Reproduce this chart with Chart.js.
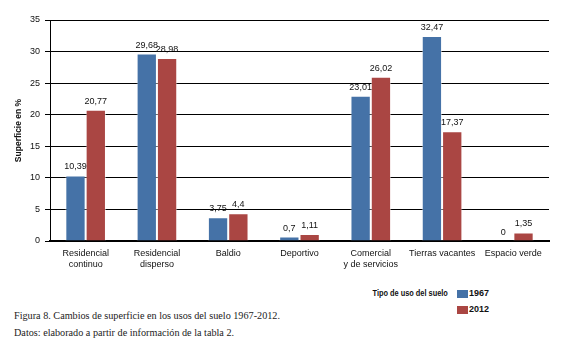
<!DOCTYPE html>
<html>
<head>
<meta charset="utf-8">
<script src="https://cdn.jsdelivr.net/npm/chart.js@4"></script>
<style>
  body { margin: 0; background: #fff; }
  #wrap { position: relative; width: 572px; height: 349px; }
  #myChart { position: absolute; left: 0; top: 0; }
  .lbl { position: absolute; font-family: 'Liberation Sans', sans-serif; font-size: 9px; color: #111; white-space: nowrap; font-weight: bold; }
  .sw { position: absolute; width: 11px; height: 8px; }
  .cap { position: absolute; left: 14px; font-family: 'Liberation Serif', serif; font-size: 10.2px; color: #222; white-space: nowrap; }
</style>
</head>
<body>
<div id="wrap">
  <canvas id="myChart" width="572" height="275"></canvas>
  <div class="lbl" style="right:124px; top:288px; transform:scaleX(0.82); transform-origin:right;">Tipo de uso del suelo</div>
  <div class="sw" style="left:457px; top:290px; background:#4572A7;"></div>
  <div class="lbl" style="left:469px; top:288px;">1967</div>
  <div class="sw" style="left:457px; top:306px; background:#AA4643;"></div>
  <div class="lbl" style="left:469px; top:304px;">2012</div>
  <div class="cap" style="top:310px;">Figura 8. Cambios de superficie en los usos del suelo 1967-2012.</div>
  <div class="cap" style="top:327px;">Datos: elaborado a partir de información de la tabla 2.</div>
</div>
<script>
const categories = [
  ['Residencial', 'continuo'],
  ['Residencial', 'disperso'],
  'Baldio',
  'Deportivo',
  ['Comercial', 'y de servicios'],
  'Tierras vacantes',
  'Espacio verde',
];
const values1967 = [10.39, 29.68, 3.75, 0.7, 23.01, 32.47, 0];
const values2012 = [20.77, 28.98, 4.4, 1.11, 26.02, 17.37, 1.35];

const sans = "'Liberation Sans', sans-serif";

// etiquetas de valor encima de cada barra
const valueLabels = {
  id: 'valueLabels',
  afterDatasetsDraw: (chart) => {
    const ctx = chart.ctx;
    ctx.save();
    ctx.font = '9px ' + sans;
    ctx.fillStyle = '#111';
    ctx.textAlign = 'center';
    ctx.textBaseline = 'bottom';
    chart.data.datasets.forEach((ds, i) => {
      chart.getDatasetMeta(i).data.forEach((bar, j) => {
        const txt = String(ds.data[j]).replace('.', ',');
        ctx.fillText(txt, bar.x, bar.y - 4);
      });
    });
    ctx.restore();
  },
};

const data = {
  labels: categories,
  datasets: [
    {
      label: '1967',
      data: values1967,
      backgroundColor: '#4572A7',
      borderColor: 'rgba(255,255,255,0.5)',
      borderWidth: 1,
    },
    {
      label: '2012',
      data: values2012,
      backgroundColor: '#AA4643',
      borderColor: 'rgba(255,255,255,0.5)',
      borderWidth: 1,
    },
  ],
};

const config = {
  type: 'bar',
  data: data,
  plugins: [valueLabels],
  options: {
    responsive: false,
    animation: false,
    layout: { padding: { left: 0, top: 20, right: 23, bottom: 0 } },
    plugins: {
      legend: { display: false },
      tooltip: { enabled: false },
    },
    datasets: {
      bar: { barPercentage: 1, categoryPercentage: 0.57 },
    },
    scales: {
      x: {
        grid: { display: false, drawTicks: false },
        border: { color: '#000', width: 2 },
        ticks: {
          color: '#111',
          font: { family: sans, size: 9 },
          padding: 7,
          maxRotation: 0,
          autoSkip: false,
        },
        afterFit: (scale) => { scale.height = 34; },
      },
      y: {
        min: 0,
        max: 35,
        ticks: {
          stepSize: 5,
          color: '#111',
          font: { family: sans, size: 9 },
          padding: 5,
        },
        grid: { color: '#000', lineWidth: 1, tickLength: 5 },
        border: { color: '#000', width: 1 },
        title: {
          display: true,
          text: 'Superficie en %',
          color: '#111',
          font: { family: sans, size: 8.5, weight: 'bold' },
          padding: { top: 14, bottom: 0 },
        },
        afterFit: (scale) => { scale.width = 50; },
      },
    },
  },
};

const myChart = new Chart(document.getElementById('myChart'), config);
</script>
</body>
</html>
